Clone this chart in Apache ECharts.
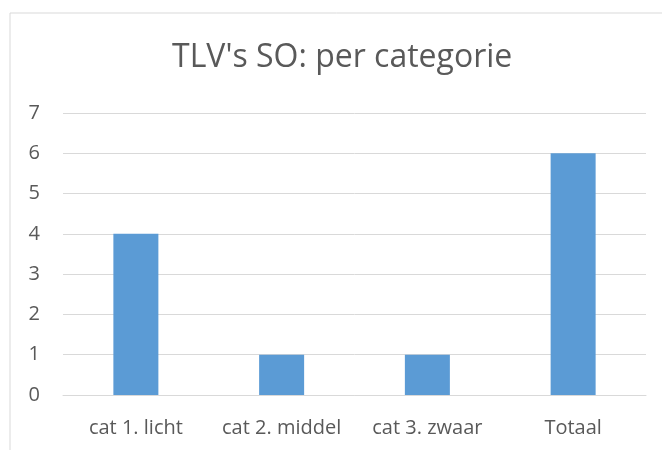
<!DOCTYPE html>
<html>
<head>
<meta charset="utf-8">
<title>TLV's SO: per categorie</title>
<script src="https://cdn.jsdelivr.net/npm/echarts@6.0.0/dist/echarts.min.js"></script>
<style>
  body { margin: 0; background: #fff; }
  #chart { width: 662px; height: 450px; }
</style>
</head>
<body>
<div id="chart"></div>
<script>
// data
var categories = ['cat 1. licht', 'cat 2. middel', 'cat 3. zwaar', 'Totaal'];
var values = [4, 1, 1, 6];
var yTicks = [0, 1, 2, 3, 4, 5, 6, 7];

var chart = echarts.init(document.getElementById('chart'));
var labelFont = '"Open Sans", "Noto Sans", sans-serif';

chart.setOption({
  animation: false,
  // thin frame round the chart, cut off at the right and bottom edges
  graphic: [{
    type: 'rect',
    shape: { x: 10, y: 13, width: 700, height: 500 },
    style: { fill: 'none', stroke: '#d9d9d9', lineWidth: 1 }
  }],
  title: {
    text: "TLV's SO: per categorie",
    left: 167,
    top: 37,
    textStyle: { fontFamily: labelFont, fontSize: 32, fontWeight: 'normal', color: '#595959' }
  },
  grid: { left: 63, right: 16, top: 113, bottom: 55, containLabel: false },
  xAxis: {
    type: 'category',
    data: categories,
    axisTick: { show: false },
    axisLine: { lineStyle: { color: '#d9d9d9' } },
    axisLabel: {
      interval: 0,
      hideOverlap: false,
      fontFamily: labelFont, fontSize: 20, color: '#595959', margin: 23
    }
  },
  yAxis: {
    type: 'value',
    min: yTicks[0],
    max: yTicks[yTicks.length - 1],
    interval: 1,
    axisLine: { show: false },
    axisTick: { show: false },
    splitLine: { lineStyle: { color: '#d9d9d9' } },
    axisLabel: { fontFamily: labelFont, fontSize: 20, color: '#595959', margin: 23 }
  },
  series: [{
    type: 'bar',
    data: values,
    barWidth: 45,
    itemStyle: { color: '#5b9bd5' }
  }]
});
</script>
</body>
</html>
